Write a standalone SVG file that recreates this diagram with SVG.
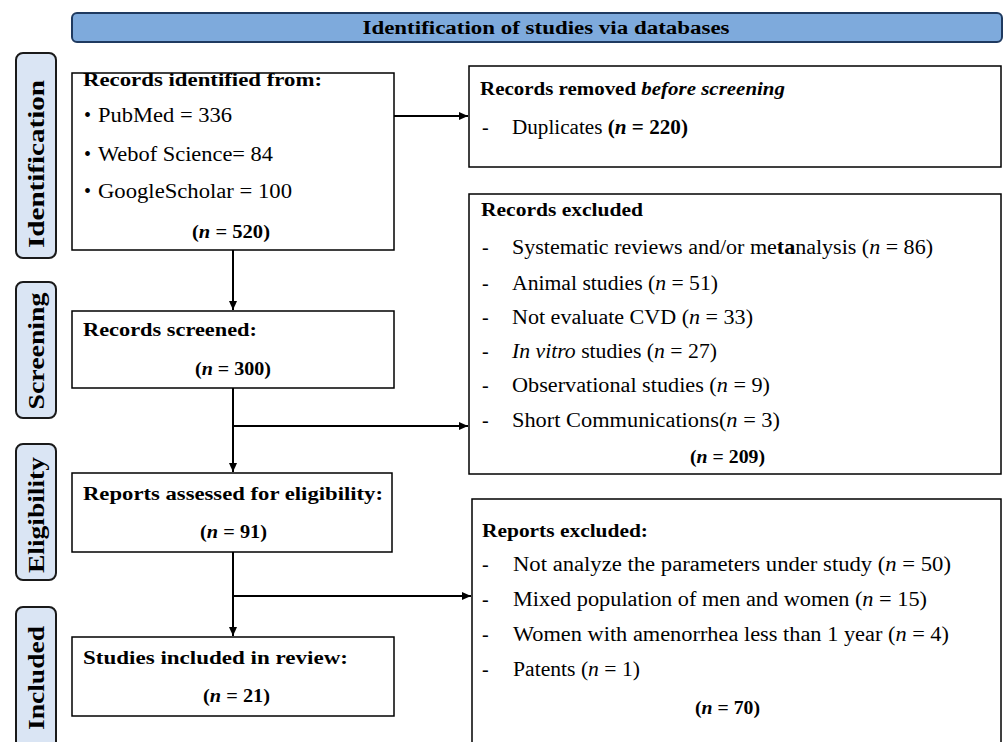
<svg xmlns="http://www.w3.org/2000/svg" width="1003" height="742" viewBox="0 0 1003 742">
<style>
text{font-family:"Liberation Serif","Times New Roman",serif;fill:#000}
.t{font-size:18.5px;font-weight:bold}
.r{font-size:20px}
.side{font-size:23px;font-weight:bold}
.box{fill:#fff;stroke:#000;stroke-width:1.5}
.lab{fill:#dae5f4;stroke:#1a1a1a;stroke-width:2}
.con{fill:none;stroke:#000;stroke-width:2}
.c{text-anchor:middle}
</style>
<defs>
<marker id="ah" markerWidth="10" markerHeight="10" refX="9" refY="5" orient="auto" markerUnits="userSpaceOnUse">
<path d="M0,1 L9,5 L0,9 z" fill="#000"/>
</marker>
</defs>
<rect width="1003" height="742" fill="#fff"/>

<g id="header">
<rect x="72" y="13" width="930" height="29" rx="5" fill="#7eaadc" stroke="#1f3a60" stroke-width="2"/>
<text class="t c" x="546" y="34" textLength="367" lengthAdjust="spacingAndGlyphs">Identification of studies via databases</text>
</g>

<g id="label-identification">
<rect class="lab" x="16" y="53" width="40" height="205" rx="7"/>
<text class="side c" transform="translate(44,164) rotate(-90)" textLength="168" lengthAdjust="spacingAndGlyphs">Identification</text>
</g>
<g id="label-screening">
<rect class="lab" x="16" y="282" width="40" height="136" rx="7"/>
<text class="side c" transform="translate(44,351) rotate(-90)" textLength="117" lengthAdjust="spacingAndGlyphs">Screening</text>
</g>
<g id="label-eligibility">
<rect class="lab" x="16" y="444" width="40" height="136" rx="7"/>
<text class="side c" transform="translate(44,515) rotate(-90)" textLength="116" lengthAdjust="spacingAndGlyphs">Eligibility</text>
</g>
<g id="label-included">
<rect class="lab" x="16" y="607" width="40" height="150" rx="7"/>
<text class="side c" transform="translate(44,678) rotate(-90)" textLength="104" lengthAdjust="spacingAndGlyphs">Included</text>
</g>

<g id="connectors">
<line class="con" x1="394" y1="116" x2="468" y2="116" marker-end="url(#ah)"/>
<line class="con" x1="233" y1="250" x2="233" y2="310" marker-end="url(#ah)"/>
<line class="con" x1="233" y1="388" x2="233" y2="472" marker-end="url(#ah)"/>
<line class="con" x1="233" y1="426" x2="468" y2="426" marker-end="url(#ah)"/>
<line class="con" x1="233" y1="552" x2="233" y2="636" marker-end="url(#ah)"/>
<line class="con" x1="233" y1="596" x2="471" y2="596" marker-end="url(#ah)"/>
</g>

<g id="records-identified">
<rect class="box" x="72" y="73" width="322" height="177"/>
<text class="t" x="83" y="86" textLength="239" lengthAdjust="spacingAndGlyphs">Records identified from:</text>
<text class="r" x="84" y="122">•</text>
<text class="r" x="98" y="122" textLength="134" lengthAdjust="spacingAndGlyphs">PubMed = 336</text>
<text class="r" x="84" y="161">•</text>
<text class="r" x="98" y="161" textLength="175" lengthAdjust="spacingAndGlyphs">Webof Science= 84</text>
<text class="r" x="84" y="198">•</text>
<text class="r" x="98" y="198" textLength="194" lengthAdjust="spacingAndGlyphs">GoogleScholar = 100</text>
<text class="t" x="192" y="238" textLength="78" lengthAdjust="spacingAndGlyphs">(<tspan font-style="italic">n</tspan> = 520)</text>
</g>

<g id="records-removed">
<rect class="box" x="469" y="66" width="532" height="101"/>
<text class="t" x="480" y="95" textLength="305" lengthAdjust="spacingAndGlyphs">Records removed <tspan font-style="italic">before screening</tspan></text>
<text class="r" x="482" y="134">-</text>
<text class="r" x="512" y="134" textLength="176" lengthAdjust="spacingAndGlyphs">Duplicates <tspan font-weight="bold">(<tspan font-style="italic">n</tspan> = 220)</tspan></text>
</g>

<g id="records-screened">
<rect class="box" x="72" y="311" width="322" height="77"/>
<text class="t" x="83" y="336" textLength="174" lengthAdjust="spacingAndGlyphs">Records screened:</text>
<text class="t" x="195" y="375" textLength="76" lengthAdjust="spacingAndGlyphs">(<tspan font-style="italic">n</tspan> = 300)</text>
</g>

<g id="records-excluded">
<rect class="box" x="469" y="194" width="532" height="280"/>
<text class="t" x="481" y="216" textLength="162" lengthAdjust="spacingAndGlyphs">Records excluded</text>
<text class="r" x="482" y="254">-</text>
<text class="r" x="512" y="254" textLength="421" lengthAdjust="spacingAndGlyphs">Systematic reviews and/or me<tspan font-weight="bold">ta</tspan>nalysis (<tspan font-style="italic">n</tspan> = 86)</text>
<text class="r" x="482" y="290">-</text>
<text class="r" x="512" y="290" textLength="206" lengthAdjust="spacingAndGlyphs">Animal studies (<tspan font-style="italic">n</tspan> = 51)</text>
<text class="r" x="482" y="324">-</text>
<text class="r" x="512" y="324" textLength="241" lengthAdjust="spacingAndGlyphs">Not evaluate CVD (<tspan font-style="italic">n</tspan> = 33)</text>
<text class="r" x="482" y="358">-</text>
<text class="r" x="512" y="358" textLength="205" lengthAdjust="spacingAndGlyphs"><tspan font-style="italic">In vitro</tspan>  studies (<tspan font-style="italic">n</tspan> = 27)</text>
<text class="r" x="482" y="392">-</text>
<text class="r" x="512" y="392" textLength="258" lengthAdjust="spacingAndGlyphs">Observational studies (<tspan font-style="italic">n</tspan> = 9)</text>
<text class="r" x="482" y="427">-</text>
<text class="r" x="512" y="427" textLength="268" lengthAdjust="spacingAndGlyphs">Short Communications(<tspan font-style="italic">n</tspan> = 3)</text>
<text class="t" x="690" y="463" textLength="75" lengthAdjust="spacingAndGlyphs">(<tspan font-style="italic">n</tspan> = 209)</text>
</g>

<g id="reports-assessed">
<rect class="box" x="72" y="473" width="320" height="79"/>
<text class="t" x="83" y="500" textLength="300" lengthAdjust="spacingAndGlyphs">Reports assessed for eligibility:</text>
<text class="t" x="200" y="538" textLength="67" lengthAdjust="spacingAndGlyphs">(<tspan font-style="italic">n</tspan> = 91)</text>
</g>

<g id="reports-excluded">
<rect class="box" x="472" y="499" width="529" height="260"/>
<text class="t" x="482" y="537" textLength="166" lengthAdjust="spacingAndGlyphs">Reports excluded:</text>
<text class="r" x="482" y="571">-</text>
<text class="r" x="513" y="571" textLength="438" lengthAdjust="spacingAndGlyphs">Not analyze the parameters under study (<tspan font-style="italic">n</tspan> = 50)</text>
<text class="r" x="482" y="606">-</text>
<text class="r" x="513" y="606" textLength="414" lengthAdjust="spacingAndGlyphs">Mixed population of men and women (<tspan font-style="italic">n</tspan> = 15)</text>
<text class="r" x="482" y="641">-</text>
<text class="r" x="513" y="641" textLength="436" lengthAdjust="spacingAndGlyphs">Women with amenorrhea less than 1 year (<tspan font-style="italic">n</tspan> = 4)</text>
<text class="r" x="482" y="676">-</text>
<text class="r" x="513" y="676" textLength="127" lengthAdjust="spacingAndGlyphs">Patents (<tspan font-style="italic">n</tspan> = 1)</text>
<text class="t" x="695" y="714" textLength="65" lengthAdjust="spacingAndGlyphs">(<tspan font-style="italic">n</tspan> = 70)</text>
</g>

<g id="studies-included">
<rect class="box" x="72" y="637" width="322" height="79"/>
<text class="t" x="83" y="664" textLength="265" lengthAdjust="spacingAndGlyphs">Studies included in review:</text>
<text class="t" x="203" y="702" textLength="67" lengthAdjust="spacingAndGlyphs">(<tspan font-style="italic">n</tspan> = 21)</text>
</g>
</svg>
